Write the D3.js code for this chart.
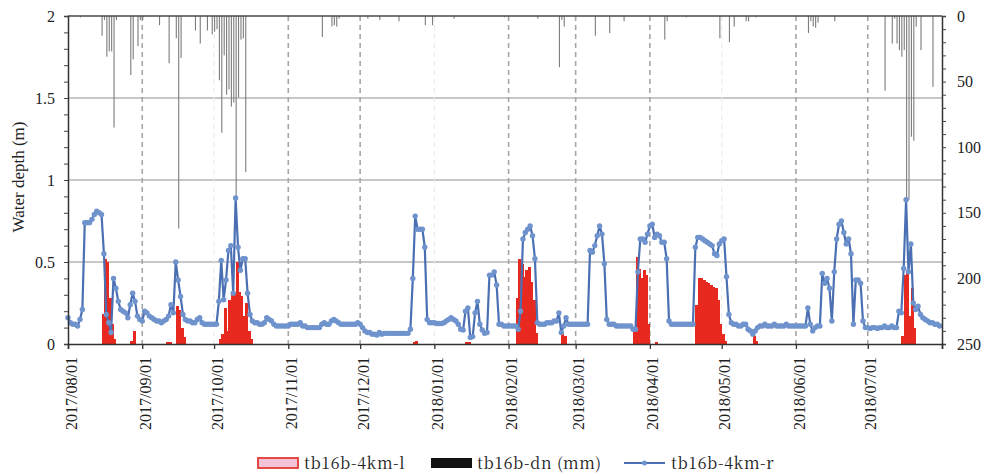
<!DOCTYPE html>
<html>
<head>
<meta charset="utf-8">
<script src="https://cdn.jsdelivr.net/npm/d3@7"></script>
<style>
  body { margin: 0; background: #fff; }
</style>
</head>
<body>
<svg id="chart" width="984" height="474"></svg>
<script>
// ---- data ----------------------------------------------------------------
const startDate = "2017-08-01";
const endDate = "2018-08-01";
const monthTicks = ["2017-08-01","2017-09-01","2017-10-01","2017-11-01","2017-12-01","2018-01-01",
                    "2018-02-01","2018-03-01","2018-04-01","2018-05-01","2018-06-01","2018-07-01"];
const dashedMonths = ["2017-09-01","2017-11-01","2017-12-01","2018-02-01","2018-03-01","2018-04-01","2018-06-01","2018-07-01"];
const faintMonths = ["2017-10-01","2018-01-01","2018-05-01"];
const depthTicks = [0, 0.5, 1, 1.5, 2];
const depthGrid = [0.5, 1, 1.5];
const rainTicks = [0, 50, 100, 150, 200, 250];

// daily water depth (m), tb16b-4km-r
const depthAug = [0.16,0.13,0.12,0.12,0.11,0.15,0.21,0.74,0.74,0.74,0.76,0.79,0.81,0.80,0.79,0.55,
                  0.18,0.13,0.07,0.40,0.34,0.26,0.21,0.20,0.19,0.16,0.24,0.31,0.26,0.17,0.15];
const depthSep = [0.14,0.20,0.19,0.17,0.16,0.15,0.14,0.14,0.13,0.14,0.15,0.17,0.24,0.19,0.50,
                  0.39,0.29,0.18,0.15,0.14,0.14,0.13,0.13,0.15,0.16,0.13,0.12,0.12,0.12,0.12];
const depthOct = [0.12,0.12,0.26,0.51,0.27,0.39,0.57,0.60,0.31,0.89,0.59,0.45,0.52,0.52,0.31,0.18,
                  0.14,0.13,0.13,0.12,0.12,0.13,0.16,0.15,0.14,0.12,0.11,0.11,0.11,0.11,0.11];
const depthNov = [0.11,0.12,0.12,0.12,0.12,0.13,0.11,0.11,0.10,0.10,0.10,0.10,0.10,0.10,0.12,
                  0.13,0.12,0.12,0.14,0.15,0.14,0.13,0.12,0.12,0.12,0.12,0.12,0.12,0.12,0.13];
const depthDec = [0.12,0.10,0.08,0.07,0.07,0.06,0.06,0.055,0.07,0.06,0.065,0.065,0.065,0.065,0.065,0.065,
                  0.065,0.065,0.065,0.065,0.065,0.09,0.40,0.78,0.70,0.70,0.70,0.59,0.15,0.13,0.13];
const depthJan = [0.13,0.125,0.125,0.125,0.13,0.14,0.15,0.16,0.15,0.14,0.12,0.09,0.085,0.20,0.22,0.04,
                  0.045,0.19,0.26,0.12,0.085,0.065,0.07,0.42,0.42,0.44,0.36,0.12,0.12,0.11,0.11];
const depthFeb = [0.11,0.11,0.11,0.11,0.09,0.20,0.64,0.68,0.70,0.72,0.66,0.52,0.13,0.12,
                  0.12,0.12,0.13,0.13,0.13,0.14,0.14,0.19,0.07,0.11,0.16,0.12,0.12,0.12];
const depthMar = [0.12,0.12,0.12,0.12,0.12,0.12,0.57,0.56,0.60,0.66,0.72,0.67,0.49,0.15,0.12,0.12,
                  0.12,0.11,0.11,0.11,0.11,0.11,0.11,0.11,0.09,0.09,0.44,0.64,0.64,0.62,0.67];
const depthApr = [0.72,0.73,0.65,0.67,0.66,0.62,0.62,0.52,0.14,0.12,0.12,0.12,0.12,0.12,0.12,
                  0.12,0.12,0.12,0.12,0.59,0.65,0.65,0.64,0.63,0.62,0.61,0.60,0.55,0.54,0.61];
const depthMay = [0.63,0.64,0.41,0.18,0.13,0.12,0.12,0.11,0.11,0.12,0.12,0.09,0.08,0.06,0.08,0.10,
                  0.11,0.11,0.12,0.11,0.11,0.11,0.12,0.11,0.11,0.11,0.11,0.12,0.11,0.11,0.11];
const depthJun = [0.11,0.11,0.11,0.11,0.11,0.22,0.12,0.08,0.10,0.11,0.11,0.43,0.37,0.40,0.34,
                  0.14,0.44,0.64,0.73,0.75,0.68,0.61,0.64,0.55,0.12,0.39,0.39,0.37,0.14,0.10];
const depthJul = [0.10,0.095,0.10,0.10,0.095,0.10,0.10,0.11,0.10,0.10,0.11,0.10,0.10,0.20,0.19,0.46,
                  0.88,0.44,0.61,0.25,0.21,0.23,0.18,0.16,0.15,0.14,0.13,0.13,0.12,0.12,0.11];

// tb16b-4km-l (m)
const levelDates = ["2017-08-15","2017-08-16","2017-08-17","2017-08-18","2017-08-19","2017-08-20",
  "2017-08-27","2017-08-28","2017-09-11","2017-09-12","2017-09-15","2017-09-16","2017-09-17","2017-09-18",
  "2017-10-03","2017-10-04","2017-10-05","2017-10-06","2017-10-07","2017-10-08","2017-10-09","2017-10-10",
  "2017-10-11","2017-10-12","2017-10-13","2017-10-14","2017-10-15","2017-10-16","2017-12-23","2017-12-24",
  "2018-01-14","2018-01-15","2018-02-04","2018-02-05","2018-02-06","2018-02-07","2018-02-08","2018-02-09",
  "2018-02-10","2018-02-11","2018-02-12","2018-02-23","2018-02-24","2018-03-25","2018-03-26","2018-03-27",
  "2018-03-28","2018-03-29","2018-03-30","2018-03-31","2018-04-03","2018-04-20","2018-04-21","2018-04-22",
  "2018-04-23","2018-04-24","2018-04-25","2018-04-26","2018-04-27","2018-04-28","2018-04-29","2018-04-30",
  "2018-05-01","2018-05-02","2018-05-14","2018-05-15","2018-07-15","2018-07-16","2018-07-17","2018-07-18",
  "2018-07-19","2018-07-20"];
const levelValues = [0.18,0.52,0.50,0.28,0.12,0.03,
  0.02,0.08,0.01,0.01,0.23,0.21,0.10,0.04,
  0.03,0.06,0.22,0.08,0.27,0.30,0.31,0.50,
  0.32,0.29,0.17,0.25,0.08,0.03,0.01,0.02,
  0.01,0.01,0.28,0.52,0.49,0.41,0.45,0.47,
  0.38,0.27,0.07,0.07,0.05,0.08,0.53,0.46,
  0.40,0.45,0.42,0.12,0.01,0.24,0.40,0.40,
  0.39,0.38,0.37,0.36,0.35,0.34,0.27,0.12,
  0.06,0.02,0.05,0.02,0.05,0.42,0.45,0.17,
  0.34,0.10];

// tb16b-dn (mm), daily rainfall
const rainDates = ["2017-08-06","2017-08-15","2017-08-16","2017-08-17","2017-08-18","2017-08-19","2017-08-20",
  "2017-08-21","2017-08-27","2017-08-28","2017-08-30","2017-08-31","2017-09-01","2017-09-08","2017-09-12",
  "2017-09-15","2017-09-16","2017-09-17","2017-09-23","2017-09-25","2017-09-28","2017-09-30","2017-10-01",
  "2017-10-02","2017-10-03","2017-10-04","2017-10-05","2017-10-06","2017-10-07","2017-10-08","2017-10-09",
  "2017-10-10","2017-10-11","2017-10-12","2017-10-13","2017-10-14","2017-11-15","2017-11-19","2017-11-20",
  "2017-11-21","2017-11-22","2017-12-04","2017-12-09","2017-12-17","2017-12-28","2017-12-31","2018-01-09",
  "2018-01-30","2018-02-13","2018-02-22","2018-02-23","2018-02-24","2018-03-09","2018-03-15","2018-03-21",
  "2018-04-07","2018-04-08","2018-04-16","2018-04-30","2018-05-04","2018-05-06","2018-05-11","2018-05-12",
  "2018-05-15","2018-06-06","2018-06-07","2018-06-08","2018-06-09","2018-06-10","2018-06-17","2018-07-08",
  "2018-07-11","2018-07-12","2018-07-13","2018-07-14","2018-07-15","2018-07-16","2018-07-17","2018-07-18",
  "2018-07-19","2018-07-20","2018-07-21","2018-07-23","2018-07-28"];
const rainMm = [1,15,3,31,27,27,85,
  3,45,33,23,3,3,7,36,
  17,162,32,11,21,11,14,12,
  10,49,89,30,60,56,69,66,
  138,62,18,17,119,16,8,7,
  8,2,2,3,4,7,7,2,
  1,2,39,3,8,15,13,4,
  18,4,1,17,20,8,4,4,
  1,13,4,8,9,5,4,57,
  21,2,21,26,31,26,142,140,
  92,95,8,26,54];

const legendLabels = ["tb16b-4km-l", "tb16b-dn (mm)", "tb16b-4km-r"];
const axisTitle = "Water depth (m)";

// ---- drawing ---------------------------------------------------------------
const FONT = '"Liberation Serif"';
const LEGEND_FONT = '"Noto Serif CJK JP"';
const parse = d3.utcParse("%Y-%m-%d");
const svg = d3.select("#chart");
const L = 68, R = 942, T = 16, B = 344;

const x = d3.scaleUtc().domain([parse(startDate), parse(endDate)]).range([L, R]);
const y = d3.scaleLinear().domain([0, 2]).range([B, T]);
const yRain = d3.scaleLinear().domain([0, 250]).range([T, B]);

const depthValues = [].concat(depthAug, depthSep, depthOct, depthNov, depthDec, depthJan,
                              depthFeb, depthMar, depthApr, depthMay, depthJun, depthJul);
const depthData = depthValues.map((v, i) => ({ date: d3.utcDay.offset(parse(startDate), i), v }));
const levelData = levelDates.map((d, i) => ({ date: parse(d), v: levelValues[i] }));
const rainData = rainDates.map((d, i) => ({ date: parse(d), v: rainMm[i] }));

// horizontal grid
svg.append("g").selectAll("line").data(depthGrid).join("line")
  .attr("x1", L).attr("x2", R).attr("y1", d => y(d)).attr("y2", d => y(d))
  .attr("stroke", "#b4b4b4").attr("stroke-width", 1.4);

// vertical month lines
svg.append("g").selectAll("line").data(dashedMonths).join("line")
  .attr("x1", d => x(parse(d))).attr("x2", d => x(parse(d)))
  .attr("y1", T).attr("y2", B)
  .attr("stroke", "#a6a6a6").attr("stroke-width", 1.6).attr("stroke-dasharray", "5,4");
svg.append("g").selectAll("line").data(faintMonths).join("line")
  .attr("x1", d => x(parse(d))).attr("x2", d => x(parse(d)))
  .attr("y1", T).attr("y2", B)
  .attr("stroke", "#ececec").attr("stroke-width", 1.2).attr("stroke-dasharray", "5,4");

// tb16b-4km-l bars (contiguous daily columns)
svg.append("g").attr("shape-rendering", "crispEdges").selectAll("rect").data(levelData).join("rect")
  .attr("x", d => x(d.date))
  .attr("width", d => x(d3.utcDay.offset(d.date, 1)) - x(d.date) + 0.6)
  .attr("y", d => y(d.v))
  .attr("height", d => y(0) - y(d.v))
  .attr("fill", "#e8291f");

// rainfall bars hanging from the top
svg.append("g").selectAll("rect").data(rainData).join("rect")
  .attr("x", d => x(d.date))
  .attr("width", 1.1)
  .attr("y", yRain(0))
  .attr("height", d => yRain(d.v) - yRain(0))
  .attr("fill", "#7c7c7c");

// depth line with markers
svg.append("path").datum(depthData)
  .attr("fill", "none").attr("stroke", "#4a6fb3").attr("stroke-width", 2.2)
  .attr("stroke-linejoin", "round")
  .attr("d", d3.line().x(d => x(d.date)).y(d => y(d.v)));
svg.append("g").selectAll("circle").data(depthData).join("circle")
  .attr("cx", d => x(d.date)).attr("cy", d => y(d.v)).attr("r", 2.7)
  .attr("fill", "#6f93cc");

// top frame line (zero of rainfall axis)
svg.append("line").attr("x1", L).attr("x2", R).attr("y1", T).attr("y2", T)
  .attr("stroke", "#4a4a4a").attr("stroke-width", 1.6);

// left axis
const leftAxis = svg.append("g").attr("transform", `translate(${L},0)`)
  .call(d3.axisLeft(y).tickValues(d3.range(0, 2.01, 0.1)).tickSize(4).tickFormat(""));
leftAxis.select(".domain").attr("stroke", "#333").attr("stroke-width", 1.5);
leftAxis.selectAll(".tick line").attr("stroke", "#444");
svg.append("g").selectAll("text").data(depthTicks).join("text")
  .attr("x", 55).attr("y", d => y(d)).attr("dy", "0.35em")
  .attr("text-anchor", "end").attr("font-size", 16).attr("fill", "#222")
  .style("font-family", FONT)
  .text(d => d3.format("")(d));

// right axis
const rightAxis = svg.append("g").attr("transform", `translate(${R},0)`)
  .call(d3.axisRight(yRain).tickValues(d3.range(0, 251, 10)).tickSize(4).tickFormat(""));
rightAxis.select(".domain").attr("stroke", "#333").attr("stroke-width", 1.5);
rightAxis.selectAll(".tick line").attr("stroke", "#444");
svg.append("g").selectAll("text").data(rainTicks).join("text")
  .attr("x", 957).attr("y", d => yRain(d)).attr("dy", "0.35em")
  .attr("text-anchor", "start").attr("font-size", 16).attr("fill", "#222")
  .style("font-family", FONT)
  .text(d => d);

// bottom axis
const bottomAxis = svg.append("g").attr("transform", `translate(0,${B})`)
  .call(d3.axisBottom(x).tickValues(monthTicks.map(parse).concat([parse(endDate)])).tickSize(5).tickFormat(""));
bottomAxis.select(".domain").attr("stroke", "#333").attr("stroke-width", 1.6);
bottomAxis.selectAll(".tick line").attr("stroke", "#333").attr("stroke-width", 1.3);
const fmt = d3.utcFormat("%Y/%m/%d");
svg.append("g").selectAll("text").data(monthTicks).join("text")
  .attr("transform", d => `translate(${x(parse(d)) + 3},357) rotate(-90)`)
  .attr("dy", "0.35em").attr("text-anchor", "end").attr("font-size", 16).attr("fill", "#222")
  .style("font-family", FONT)
  .text(d => fmt(parse(d)));

// axis title
svg.append("text")
  .attr("transform", "translate(18,177) rotate(-90)")
  .attr("dy", "0.35em").attr("text-anchor", "middle").attr("font-size", 17).attr("fill", "#222")
  .style("font-family", FONT)
  .text(axisTitle);

// legend
const lg = svg.append("g");
lg.append("rect").attr("x", 258).attr("y", 458).attr("width", 40).attr("height", 10)
  .attr("fill", "#f3c4d8").attr("stroke", "#e23a35").attr("stroke-width", 1.8);
lg.append("rect").attr("x", 431).attr("y", 458).attr("width", 41).attr("height", 10).attr("fill", "#111");
lg.append("line").attr("x1", 624).attr("x2", 665).attr("y1", 463).attr("y2", 463)
  .attr("stroke", "#4a6fb3").attr("stroke-width", 2);
lg.append("circle").attr("cx", 644.5).attr("cy", 463).attr("r", 2.5).attr("fill", "#6f93cc");
lg.selectAll("text").data(legendLabels).join("text")
  .attr("x", (d, i) => [304, 477, 671][i]).attr("y", 463).attr("dy", "0.35em")
  .attr("font-size", 16).attr("fill", "#222")
  .style("font-family", LEGEND_FONT).style("letter-spacing", "0.6px")
  .text(d => d);
</script>
</body>
</html>
